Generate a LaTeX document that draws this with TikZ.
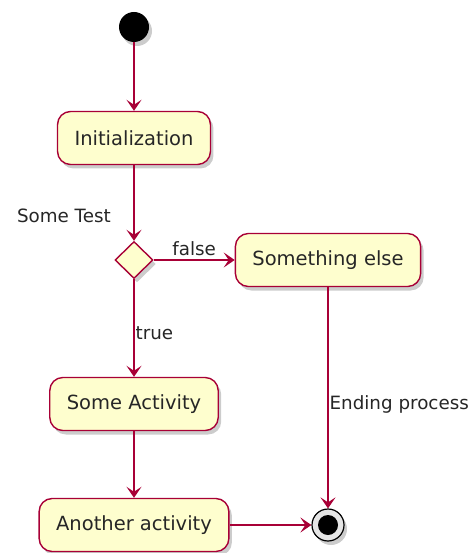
\documentclass[tikz,border=0pt]{standalone}
\usepackage{fontspec}
\setmainfont{DejaVu Sans}
\usetikzlibrary{shapes.geometric, arrows.meta, shadows}

\definecolor{plumred}{HTML}{A80036}
\definecolor{actfill}{HTML}{FEFECE}

\begin{document}
\begin{tikzpicture}[
    x=1pt, y=-1pt,
    %% ── Box styles ──────────────────────────────────────────────────────
    actnode/.style={
        draw=plumred, line width=1.4pt,
        fill=actfill,
        rounded corners=13pt,
        inner xsep=17pt, minimum height=53pt,
        font=\fontsize{19.5}{22}\selectfont,
        text=black!85,
        drop shadow={shadow xshift=3pt, shadow yshift=-4pt, opacity=0.4},
    },
    testnode/.style={
        draw=plumred, line width=1.4pt,
        fill=actfill,
        diamond, inner sep=0pt,
        minimum width=38pt, minimum height=37pt,
        drop shadow={shadow xshift=3pt, shadow yshift=-4pt, opacity=0.4},
    },
    startnode/.style={
        circle, fill=black, minimum size=30pt, inner sep=0pt,
        drop shadow={shadow xshift=3pt, shadow yshift=-4pt, opacity=0.4},
    },
    endnode/.style={
        circle, draw=black, line width=1.2pt, fill=black!10,
        minimum size=32pt, inner sep=0pt,
        drop shadow={shadow xshift=3pt, shadow yshift=-4pt, opacity=0.4},
    },
    %% ── Arrow styles ────────────────────────────────────────────────────
    flow/.style={
        draw=plumred, line width=1.2pt,
        -{Stealth[length=11pt, width=15pt, inset=5pt, fill=plumred]},
    },
    lbl/.style={font=\fontsize{18.3}{21}\selectfont, text=black!85, inner sep=1pt},
]

\useasboundingbox (0,0) rectangle (470,553);

%%─────────────────────────────────────────────────────────────────────────
%% Left column
%%─────────────────────────────────────────────────────────────────────────
\node[startnode] (Start) at (134, 27) {};
\node[actnode] (Initialization) at (134, 138) {Initialization};
\node[testnode] (SomeTest) at (134, 260) {};
\node[lbl, anchor=east] (SomeTestLbl) at (112, 216) {Some Test};
\node[actnode] (SomeActivity) at (134, 404) {Some Activity};
\node[actnode] (AnotherActivity) at (134, 525) {Another activity};

%%─────────────────────────────────────────────────────────────────────────
%% Right column
%%─────────────────────────────────────────────────────────────────────────
\node[actnode] (SomethingElse) at (328, 260) {Something else};
\node[endnode] (End) at (328, 525) {};
\fill[black] (End.center) circle (10pt);

%%─────────────────────────────────────────────────────────────────────────
%% Flows
%%─────────────────────────────────────────────────────────────────────────
\draw[flow] (Start) -- (Initialization);
\draw[flow] (Initialization) -- (SomeTest);

%% false branch
\draw[flow] (SomeTest.east) -- (SomethingElse.west)
    node[lbl, midway, above=3pt] {false};

%% true branch
\draw[flow] (SomeTest.south) -- (SomeActivity.north)
    node[lbl, pos=0.55, right=0pt] {true};

\draw[flow] (SomeActivity) -- (AnotherActivity);
\draw[flow] (AnotherActivity.east) -- (End.west);

\draw[flow] (SomethingElse.south) -- (End.north)
    node[lbl, pos=0.53, right=0pt] {Ending process};

\end{tikzpicture}
\end{document}
